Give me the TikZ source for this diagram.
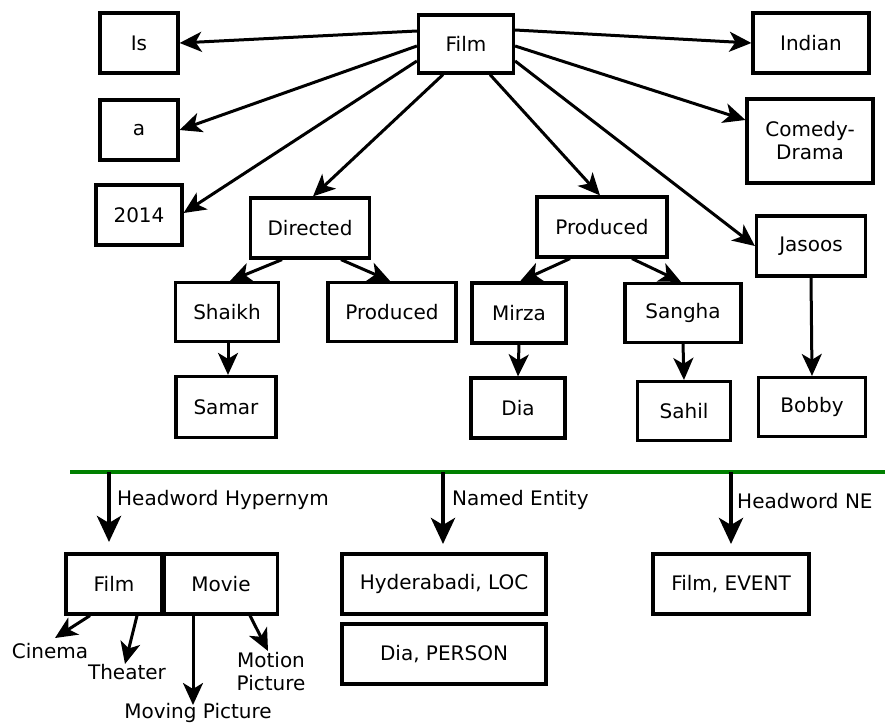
\documentclass[tikz,border=0pt]{standalone}
\usepackage{fontspec}
\setmainfont{DejaVu Sans}
\usetikzlibrary{arrows.meta}
\begin{document}
\begin{tikzpicture}[x=1pt,y=-1pt,
  every node/.style={font=\fontsize{20}{23}\selectfont},
  box/.style={draw,line width=3.2pt,inner sep=0pt,align=center},
  lbl/.style={inner sep=0pt,align=center},
  link/.style={line width=3pt,-{Stealth[length=22pt,width=20pt,inset=6pt]}},
  feat/.style={line width=4.5pt,-{Stealth[length=26pt,width=24pt,inset=7pt]}}]
\useasboundingbox (0,0) rectangle (885,725);

% parse tree of the sentence
\node[box,minimum width=95,minimum height=58] (film) at (466,44) {Film};
\node[box,minimum width=78,minimum height=60] (is) at (139,43) {Is};
\node[box,minimum width=78,minimum height=60] (a) at (139,130) {a};
\node[box,minimum width=86,minimum height=60] (year) at (139,215) {2014};
\node[box,minimum width=119,minimum height=60] (directed) at (310,228) {Directed};
\node[box,minimum width=130,minimum height=60] (produced) at (602,227) {Produced};
\node[box,minimum width=116,minimum height=60] (indian) at (811,43) {Indian};
\node[box,minimum width=126,minimum height=84] (comedy) at (810,141) {Comedy-\\Drama};
\node[box,minimum width=109,minimum height=60] (jasoos) at (811,246) {Jasoos};
\node[box,minimum width=103,minimum height=59] (shaikh) at (227,312) {Shaikh};
\node[box,minimum width=128,minimum height=59] (producedb) at (392,312) {Produced};
\node[box,minimum width=94,minimum height=60] (mirza) at (519,313) {Mirza};
\node[box,minimum width=116,minimum height=59] (sangha) at (683,313) {Sangha};
\node[box,minimum width=100,minimum height=61] (samar) at (226,407) {Samar};
\node[box,minimum width=94,minimum height=60] (dia) at (518,408) {Dia};
\node[box,minimum width=93,minimum height=59] (sahil) at (684,411) {Sahil};
\node[box,minimum width=107,minimum height=59] (bobby) at (812,407) {Bobby};

\draw[link] ([yshift=13]film.west) -- (is.east);
\draw[link] ([yshift=-2]film.west) -- (a.east);
\draw[link] ([yshift=-17]film.west) -- ([yshift=2]year.east);
\draw[link] ([xshift=-23]film.south) -- ([xshift=3]directed.north);
\draw[link] ([xshift=24]film.south) -- ([xshift=-2]produced.north);
\draw[link] ([yshift=14]film.east) -- (indian.west);
\draw[link] ([yshift=-2]film.east) -- ([yshift=21]comedy.west);
\draw[link] ([yshift=-17]film.east) -- (jasoos.west);
\draw[link] ([xshift=-28]directed.south) -- ([xshift=3]shaikh.north);
\draw[link] ([xshift=31]directed.south) -- ([xshift=-2]producedb.north);
\draw[link] ([xshift=-32]produced.south) -- ([xshift=1]mirza.north);
\draw[link] ([xshift=30]produced.south) -- ([xshift=-2]sangha.north);
\draw[link] ([xshift=1]shaikh.south) -- ([xshift=2]samar.north);
\draw[link] (mirza.south) -- (dia.north);
\draw[link] (sangha.south) -- (sahil.north);
\draw[link] (jasoos.south) -- (bobby.north);

% separator and extracted features
\coordinate (sepl) at (70,472);
\coordinate (sepr) at (885,472);
\draw[line width=4pt,green!50!black] (sepl) -- (sepr);

\coordinate (hh) at (109,472);
\coordinate (ne) at (443,472);
\coordinate (hn) at (731,472);
\coordinate (hhend) at (109,542);
\coordinate (neend) at (443,544);
\coordinate (hnend) at (731,544);
\draw[feat] (hh) -- (hhend);
\draw[feat] (ne) -- (neend);
\draw[feat] (hn) -- (hnend);
\node[lbl,anchor=west] (hhl) at (117,500) {Headword Hypernym};
\node[lbl,anchor=west] (nel) at (452,500) {Named Entity};
\node[lbl,anchor=west] (hnl) at (737,501) {Headword NE};

\node[box,minimum width=96,minimum height=60] (filmb) at (114,584) {Film};
\node[box,minimum width=113,minimum height=60] (movie) at (221,584) {Movie};
\node[box,minimum width=204,minimum height=60] (hyd) at (444,584) {Hyderabadi, LOC};
\node[box,minimum width=204,minimum height=60] (diap) at (444,654) {Dia, PERSON};
\node[box,minimum width=156,minimum height=60] (event) at (731,584) {Film, EVENT};

\node[lbl] (cinema) at (50,651) {Cinema};
\node[lbl] (theater) at (127,672) {Theater};
\node[lbl] (moving) at (198,713) {Moving Picture};
\node[lbl] (motion) at (271,672) {Motion\\Picture};

\draw[link] ([xshift=-24]filmb.south) -- (55,638);
\draw[link] ([xshift=23]filmb.south) -- (125,664);
\draw[link] ([xshift=-28]movie.south) -- (193,705);
\draw[link] ([xshift=29]movie.south) -- (268,651);
\end{tikzpicture}
\end{document}
